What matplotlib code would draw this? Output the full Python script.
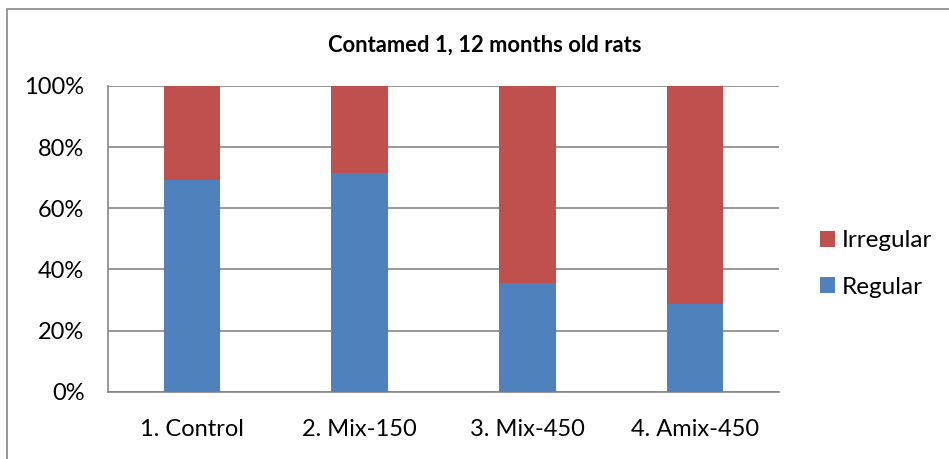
import matplotlib
matplotlib.use("Agg")
import matplotlib.pyplot as plt
from matplotlib.patches import Rectangle, Patch

plt.rcParams['font.family'] = ['Lato', 'DejaVu Sans']

categories = ["1. Control", "2. Mix-150", "3. Mix-450", "4. Amix-450"]
regular = [69.2, 71.4, 35.7, 28.6]
irregular = [100 - v for v in regular]
y_ticks = [0, 20, 40, 60, 80, 100]
y_tick_labels = ["0%", "20%", "40%", "60%", "80%", "100%"]

blue = "#4F81BD"
red = "#C0504D"
gray = "#868686"

fig = plt.figure(figsize=(9.49, 4.59), dpi=100)
fig.patch.set_facecolor("white")

# chart-area frame (runs off the right and bottom edges)
fig.add_artist(Rectangle((7 / 949, -0.05), 1.2, 1 - 9 / 459 + 0.05,
                         transform=fig.transFigure, fill=False,
                         edgecolor=gray, linewidth=1.2))

ax = fig.add_axes([108 / 949, 1 - 391.7 / 459, (779 - 108) / 949, (391.7 - 86) / 459])
x = range(len(categories))
ax.bar(x, regular, width=0.337, color=blue, zorder=3, label="Regular")
ax.bar(x, irregular, bottom=regular, width=0.337, color=red, zorder=3, label="Irregular")

ax.set_xlim(-0.5, 3.5)
ax.set_ylim(0, 100)
ax.set_yticks(y_ticks)
ax.set_yticklabels(y_tick_labels)
ax.set_xticks(list(x))
ax.set_xticklabels(categories)
ax.yaxis.grid(True, color=gray, linewidth=1.2, zorder=0)
ax.set_axisbelow(True)
for side in ("top", "right"):
    ax.spines[side].set_visible(False)
for side in ("left", "bottom"):
    ax.spines[side].set_color(gray)
    ax.spines[side].set_linewidth(1.2)
ax.tick_params(axis="both", length=0, labelsize=17, colors="black")
ax.tick_params(axis="y", pad=17)
ax.tick_params(axis="x", pad=20)

fig.text(485 / 949, 1 - 45 / 459, "Contamed 1, 12 months old rats",
         ha="center", va="center", fontsize=15.8, fontweight="bold")

handles = [Patch(facecolor=red, label="Irregular"), Patch(facecolor=blue, label="Regular")]
fig.legend(handles=handles, loc="center left", bbox_to_anchor=(810 / 949, 1 - 264 / 459),
           frameon=False, fontsize=17.5, handlelength=0.62, handleheight=0.62,
           handletextpad=0.3, labelspacing=1.05, borderaxespad=0)

fig.savefig("out.png", dpi=100)
